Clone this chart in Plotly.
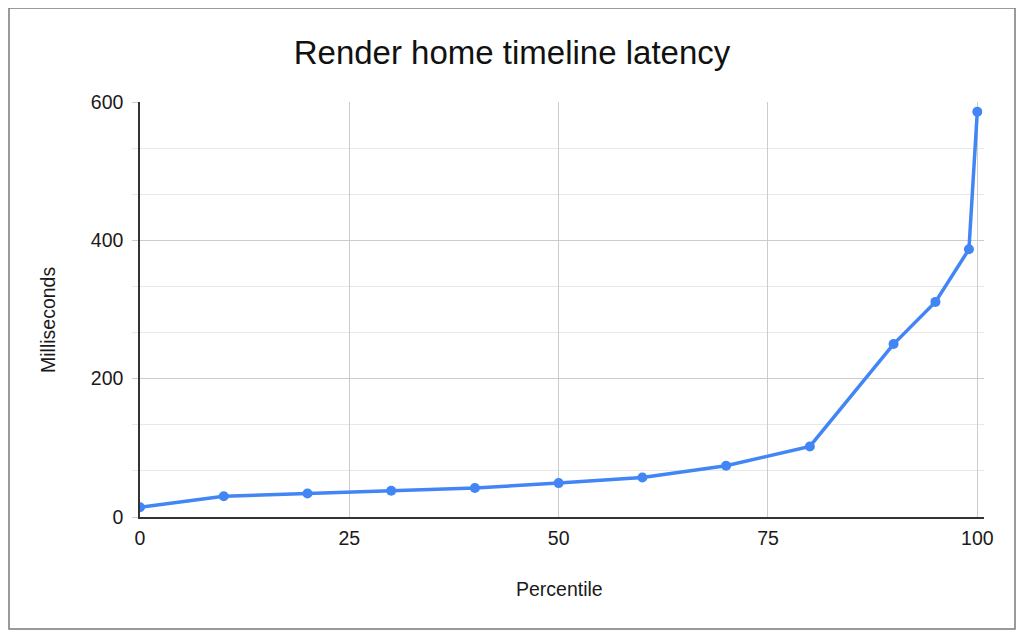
import plotly.graph_objects as go

# percentile -> latency (ms)
percentiles = [0, 10, 20, 30, 40, 50, 60, 70, 80, 90, 95, 99, 100]
latency_ms = [14, 30, 34, 38, 42, 49, 57, 74, 102, 250, 311, 387, 586]

x_ticks = [0, 25, 50, 75, 100]
y_ticks = [0, 200, 400, 600]

FONT = "Liberation Sans, Arial, sans-serif"
BLUE = "#4285F4"

# page body has an 8px margin, so the figure is drawn 8px smaller on each side
OFF = 8
W, H = 1024 - 2 * OFF, 640 - 2 * OFF

fig = go.Figure()

fig.add_trace(go.Scatter(
    x=percentiles,
    y=latency_ms,
    mode="lines+markers",
    line=dict(color=BLUE, width=3.5),
    marker=dict(color=BLUE, size=10),
    hoverinfo="x+y",
    showlegend=False,
))

# plot area in screen pixels: x 140..984, y 102..517
L, R, T, B = 140 - OFF, W - (984 - OFF), 102 - OFF, H - (517 - OFF)
pw, ph = W - L - R, H - T - B


def px_x(px):
    # screen px -> paper x
    return (px - OFF - L) / pw


def px_y(py):
    # screen px -> paper y
    return (H - B - (py - OFF)) / ph


fig.update_layout(
    width=W,
    height=H,
    margin=dict(l=L, r=R, t=T, b=B),
    paper_bgcolor="white",
    plot_bgcolor="white",
    font=dict(family=FONT, color="#222222"),
    title=dict(
        text="Render home timeline latency",
        x=0.5, xref="container", xanchor="center",
        y=1 - (52 - OFF) / H, yanchor="middle",
        font=dict(size=33, color="#111111", family=FONT),
    ),
    xaxis=dict(
        range=[0, 100.8],
        tickvals=x_ticks,
        ticktext=[str(v) for v in x_ticks],
        showgrid=True,
        gridcolor="#cccccc",
        gridwidth=1.2,
        zeroline=False,
        showline=True,
        linecolor="#333333",
        linewidth=1.5,
        ticks="",
        ticklabelstandoff=3,
        tickfont=dict(size=19.5, color="#1a1a1a"),
    ),
    yaxis=dict(
        range=[0, 600],
        tickvals=y_ticks,
        ticktext=[str(v) for v in y_ticks],
        showgrid=True,
        gridcolor="#cccccc",
        gridwidth=1.2,
        zeroline=False,
        showline=True,
        linecolor="#333333",
        linewidth=1.5,
        ticks="outside",
        ticklen=6,
        tickcolor="#cccccc",
        ticklabelstandoff=5,
        tickfont=dict(size=19.5, color="#1a1a1a"),
        minor=dict(
            tick0=0,
            dtick=200 / 3,
            showgrid=True,
            gridcolor="#e8e8e8",
            gridwidth=1,
            ticks="outside",
            ticklen=6,
            tickcolor="#e8e8e8",
        ),
    ),
)

# axis titles
fig.add_annotation(
    text="Milliseconds", xref="paper", yref="paper",
    x=px_x(48), y=px_y(320), textangle=-90,
    showarrow=False, xanchor="center", yanchor="middle",
    font=dict(size=19.5, color="#1a1a1a", family=FONT),
)
fig.add_annotation(
    text="Percentile", xref="paper", yref="paper",
    x=px_x(559), y=px_y(589),
    showarrow=False, xanchor="center", yanchor="middle",
    font=dict(size=19.5, color="#1a1a1a", family=FONT),
)

# outer frame around the whole chart
fig.add_shape(
    type="rect", xref="paper", yref="paper",
    x0=px_x(9), x1=px_x(1015), y0=px_y(629), y1=px_y(8),
    line=dict(color="#7a7a7a", width=1.5),
    fillcolor="rgba(0,0,0,0)",
)

fig.write_html("out.html")
